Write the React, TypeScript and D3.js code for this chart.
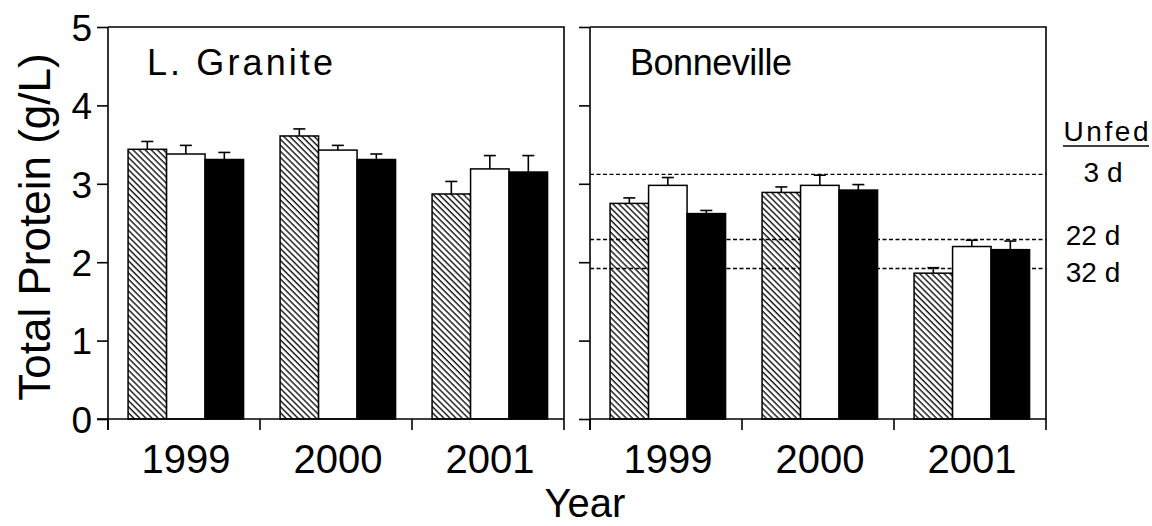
import React, { useEffect, useRef } from "react";
import * as d3 from "d3";

// data (g/L), bar order: hatched, open, solid
const years = ["1999", "2000", "2001"];
const series = ["hatched", "open", "solid"];

const graniteHatched = [3.44, 3.61, 2.87];
const graniteHatchedSE = [0.1, 0.09, 0.16];
const graniteOpen = [3.38, 3.43, 3.19];
const graniteOpenSE = [0.11, 0.06, 0.17];
const graniteSolid = [3.31, 3.31, 3.15];
const graniteSolidSE = [0.09, 0.07, 0.21];

const bonnHatched = [2.75, 2.89, 1.86];
const bonnHatchedSE = [0.07, 0.07, 0.07];
const bonnOpen = [2.98, 2.98, 2.2];
const bonnOpenSE = [0.1, 0.13, 0.08];
const bonnSolid = [2.62, 2.92, 2.16];
const bonnSolidSE = [0.04, 0.07, 0.11];

const unfedLevels = [3.12, 2.29, 1.92];
const unfedLabels = ["3 d", "22 d", "32 d"];

const majorTicks = [0, 1, 2, 3, 4, 5];
const minorTicks = [0.5, 1.5, 2.5, 3.5, 4.5];

const FONT = "'Liberation Sans', Arial, sans-serif";

const App: React.FC = () => {
  const svgRef = useRef<SVGSVGElement | null>(null);

  useEffect(() => {
    const width = 1152;
    const height = 526;
    const top = 27;
    const bottom = 419;

    const svg = d3.select(svgRef.current);
    svg.selectAll("*").remove();
    svg.attr("viewBox", [0, 0, width, height]).attr("width", width).attr("height", height);

    svg.append("rect").attr("width", width).attr("height", height).attr("fill", "#fff");

    const defs = svg.append("defs");
    defs
      .append("pattern")
      .attr("id", "hatch")
      .attr("patternUnits", "userSpaceOnUse")
      .attr("width", 4.3)
      .attr("height", 10)
      .attr("patternTransform", "rotate(-45)")
      .append("line")
      .attr("x1", 1)
      .attr("x2", 1)
      .attr("y1", 0)
      .attr("y2", 10)
      .attr("stroke", "#000")
      .attr("stroke-width", 1.3);

    const y = d3.scaleLinear().domain([0, 5]).range([bottom, top]);

    const panels = [
      {
        name: "L. Granite",
        x0: 108,
        x1: 564,
        labels: true,
        means: [graniteHatched, graniteOpen, graniteSolid],
        se: [graniteHatchedSE, graniteOpenSE, graniteSolidSE],
        unfed: false,
      },
      {
        name: "Bonneville",
        x0: 590,
        x1: 1046,
        labels: false,
        means: [bonnHatched, bonnOpen, bonnSolid],
        se: [bonnHatchedSE, bonnOpenSE, bonnSolidSE],
        unfed: true,
      },
    ];

    const fills = ["url(#hatch)", "#fff", "#000"];

    panels.forEach((p) => {
      const g = svg.append("g");
      const x = d3.scaleBand().domain(years).range([p.x0, p.x1]).padding(0);
      const xs = d3
        .scaleBand()
        .domain(series)
        .range([0, x.bandwidth()])
        .paddingInner(0)
        .paddingOuter(0.474)
        .align(0.55);

      // dashed unfed reference lines
      if (p.unfed) {
        g.selectAll(".unfed")
          .data(unfedLevels)
          .enter()
          .append("line")
          .attr("x1", p.x0)
          .attr("x2", p.x1)
          .attr("y1", (d) => y(d))
          .attr("y2", (d) => y(d))
          .attr("stroke", "#000")
          .attr("stroke-width", 1.4)
          .attr("stroke-dasharray", "4,2.5");
      }

      series.forEach((s, si) => {
        const vals = p.means[si];
        const errs = p.se[si];
        // error bars (upper only)
        const eb = g.append("g");
        vals.forEach((v, i) => {
          const cx = (x(years[i]) as number) + (xs(s) as number) + xs.bandwidth() / 2;
          eb.append("line")
            .attr("x1", cx)
            .attr("x2", cx)
            .attr("y1", y(v))
            .attr("y2", y(v + errs[i]))
            .attr("stroke", "#000")
            .attr("stroke-width", 1.6);
          eb.append("line")
            .attr("x1", cx - 6)
            .attr("x2", cx + 6)
            .attr("y1", y(v + errs[i]))
            .attr("y2", y(v + errs[i]))
            .attr("stroke", "#000")
            .attr("stroke-width", 1.6);
        });
        g.selectAll(".bar-" + s)
          .data(vals)
          .enter()
          .append("rect")
          .attr("x", (_, i) => (x(years[i]) as number) + (xs(s) as number))
          .attr("y", (d) => y(d))
          .attr("width", xs.bandwidth())
          .attr("height", (d) => y(0) - y(d))
          .attr("fill", fills[si])
          .attr("stroke", "#000")
          .attr("stroke-width", 1.5);
      });

      // frame: top and right
      g.append("path")
        .attr("d", `M${p.x0},${top}H${p.x1}V${bottom}`)
        .attr("fill", "none")
        .attr("stroke", "#000")
        .attr("stroke-width", 1.6);

      // left axis
      const ya = g.append("g").attr("transform", `translate(${p.x0},0)`);
      ya.call(d3.axisLeft(y).tickValues(minorTicks).tickSize(6).tickFormat(() => ""));
      ya.call(
        d3
          .axisLeft(y)
          .tickValues(majorTicks)
          .tickSize(11)
          .tickPadding(5)
          .tickFormat((d) => (p.labels ? d3.format("d")(d as number) : "")),
      );
      ya.selectAll(".domain").remove();
      ya.selectAll("line").attr("stroke", "#000").attr("stroke-width", 1.6);
      ya.selectAll("text")
        .style("font-family", FONT)
        .style("font-size", "37px")
        .attr("fill", "#000")
        .attr("dy", "0.36em");
      ya.append("line")
        .attr("y1", top)
        .attr("y2", bottom + 11)
        .attr("stroke", "#000")
        .attr("stroke-width", 1.6);

      // bottom axis
      const xa = g.append("g").attr("transform", `translate(0,${bottom})`);
      const edges = [p.x0, ...years.slice(1).map((yr) => x(yr) as number), p.x1];
      xa.append("line")
        .attr("x1", p.labels ? p.x0 - 11 : p.x0)
        .attr("x2", p.x1)
        .attr("stroke", "#000")
        .attr("stroke-width", 1.6);
      xa.selectAll(".xtick")
        .data(edges)
        .enter()
        .append("line")
        .attr("x1", (d) => d)
        .attr("x2", (d) => d)
        .attr("y1", 0)
        .attr("y2", 11)
        .attr("stroke", "#000")
        .attr("stroke-width", 1.6);
      xa.selectAll(".xlab")
        .data(years)
        .enter()
        .append("text")
        .attr("x", (d) => (x(d) as number) + x.bandwidth() / 2 + 2)
        .attr("y", 54)
        .attr("text-anchor", "middle")
        .style("font-family", FONT)
        .style("font-size", "40px")
        .text((d) => d);

      // panel title
      g.append("text")
        .attr("x", p.labels ? 147 : 630)
        .attr("y", 75)
        .style("font-family", FONT)
        .style("font-size", "36px")
        .attr("textLength", p.labels ? 186 : 162)
        .text(p.name);
    });

    // unfed legend
    const lg = svg.append("g").style("font-family", FONT).style("font-size", "28px");
    lg.append("text").attr("x", 1106).attr("y", 141).attr("text-anchor", "middle").attr("textLength", 85).text("Unfed");
    lg.append("line")
      .attr("x1", 1063)
      .attr("x2", 1149)
      .attr("y1", 146)
      .attr("y2", 146)
      .attr("stroke", "#000")
      .attr("stroke-width", 1.3);
    const legY = [182, 245, 282];
    lg.selectAll(".ul")
      .data(unfedLabels)
      .enter()
      .append("text")
      .attr("x", (_, i) => (i === 0 ? 1103 : 1093))
      .attr("y", (_, i) => legY[i])
      .attr("text-anchor", "middle")
      .text((d) => d);

    // axis titles
    svg
      .append("text")
      .attr("transform", `translate(50,${(top + bottom) / 2 + 4}) rotate(-90)`)
      .attr("text-anchor", "middle")
      .style("font-family", FONT)
      .style("font-size", "44px")
      .text("Total Protein (g/L)");

    svg
      .append("text")
      .attr("x", 585)
      .attr("y", 517)
      .attr("text-anchor", "middle")
      .style("font-family", FONT)
      .style("font-size", "40px")
      .text("Year");
  }, []);

  return (
    <div style={{ position: "absolute", left: 0, top: 0, width: 1152, height: 526 }}>
      <svg ref={svgRef} style={{ display: "block" }}></svg>
    </div>
  );
};

export default App;
